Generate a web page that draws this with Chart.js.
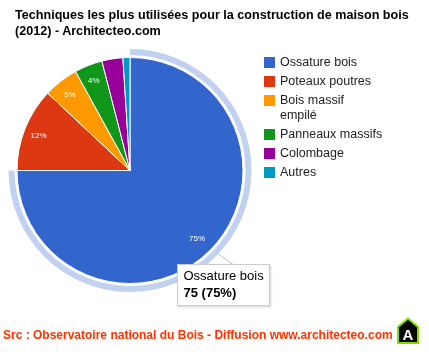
<!DOCTYPE html>
<html><head><meta charset="utf-8">
<script src="https://cdn.jsdelivr.net/npm/chart.js@4"></script>
<style>
html,body{margin:0;padding:0;background:#fff;}
#wrap{position:relative;width:429px;height:352px;overflow:hidden;font-family:Arial,"Liberation Sans",sans-serif;}
#c{position:absolute;left:0;top:0;}
#title{position:absolute;left:15px;top:7px;font-weight:bold;font-size:12.6px;line-height:16px;color:#000;white-space:nowrap;}
#legend{position:absolute;left:264px;top:55px;}
.item{display:flex;align-items:flex-start;margin-bottom:4px;}
.sw{width:11px;height:11px;margin-top:2px;margin-right:5px;flex:none;}
.lt{font-size:12.5px;line-height:15px;color:#222;width:103px;}
#footer{position:absolute;left:3px;top:327px;font-weight:bold;font-size:12px;line-height:16px;color:#ff3300;white-space:nowrap;}
#logo{position:absolute;left:397px;top:317px;}
</style></head>
<body>
<div id="wrap">
<canvas id="c" width="429" height="352"></canvas>
<div id="title">Techniques les plus utilisées pour la construction de maison bois<br>(2012) - Architecteo.com</div>
<div id="legend"></div>
<div id="footer">Src : Observatoire national du Bois - Diffusion www.architecteo.com</div>
<svg id="logo" width="24" height="28" viewBox="0 0 24 28">
<polygon points="11,1.5 21,10 21,26 1,26 1,10" fill="#000" stroke="#7fdd00" stroke-width="2" stroke-linejoin="miter"/>
<text x="11" y="23" text-anchor="middle" font-family="Liberation Sans, Arial" font-weight="bold" font-size="15" fill="#fff">A</text>
</svg>
</div>
<script>
const categories = ['Ossature bois','Poteaux poutres','Bois massif empilé','Panneaux massifs','Colombage','Autres'];
const values = [75, 12, 5, 4, 3, 1];
const colors = ['#3366cc','#dc3912','#ff9900','#109618','#990099','#0099c6'];
const selectedIndex = 0;
const labelMinPct = 4;

// legend
const lg = document.getElementById('legend');
categories.forEach((c, i) => {
  const it = document.createElement('div'); it.className = 'item';
  const sw = document.createElement('div'); sw.className = 'sw'; sw.style.background = colors[i];
  const t = document.createElement('div'); t.className = 'lt'; t.textContent = c;
  it.appendChild(sw); it.appendChild(t); lg.appendChild(it);
});

const total = values.reduce((a, b) => a + b, 0);
const pctOf = v => Math.round(v / total * 100);

const haloPlugin = {
  id: 'halo',
  beforeDatasetsDraw(chart) {
    const arc = chart.getDatasetMeta(0).data[selectedIndex];
    const p = arc.getProps(['x','y','startAngle','endAngle','outerRadius'], true);
    const ctx = chart.ctx;
    ctx.save();
    ctx.beginPath();
    ctx.arc(p.x, p.y, p.outerRadius + 8.5, p.startAngle, p.endAngle);
    ctx.arc(p.x, p.y, p.outerRadius + 2.5, p.endAngle, p.startAngle, true);
    ctx.closePath();
    ctx.fillStyle = 'rgba(51,102,204,0.3)';
    ctx.fill();
    ctx.restore();
  }
};

const labelPlugin = {
  id: 'sliceLabels',
  afterDatasetsDraw(chart) {
    const ctx = chart.ctx;
    const meta = chart.getDatasetMeta(0);
    ctx.save();
    ctx.font = '8px Arial, "Liberation Sans", sans-serif';
    ctx.fillStyle = '#fff';
    ctx.textAlign = 'center';
    ctx.textBaseline = 'middle';
    meta.data.forEach((arc, i) => {
      const pct = pctOf(values[i]);
      if (pct < labelMinPct) return;
      const p = arc.getProps(['x','y','startAngle','endAngle','outerRadius'], true);
      const mid = (p.startAngle + p.endAngle) / 2;
      const f = pct > 50 ? 0.84 : 0.87;
      ctx.fillText(pct + '%', p.x + Math.cos(mid) * p.outerRadius * f, p.y + 1.5 + Math.sin(mid) * p.outerRadius * f);
    });
    ctx.restore();
  }
};

const tipPlugin = {
  id: 'fixedTip',
  afterDraw(chart) {
    const ctx = chart.ctx;
    const bx = 177, by = 264, bw = 93, bh = 42;
    ctx.save();
    ctx.strokeStyle = '#bbb';
    ctx.lineWidth = 1;
    ctx.beginPath();
    ctx.moveTo(218.5, 254);
    ctx.lineTo(233, 264.5);
    ctx.stroke();
    ctx.shadowColor = 'rgba(0,0,0,0.18)';
    ctx.shadowBlur = 2;
    ctx.shadowOffsetX = 1;
    ctx.shadowOffsetY = 1;
    ctx.fillStyle = '#fff';
    ctx.fillRect(bx, by, bw, bh);
    ctx.shadowColor = 'transparent';
    ctx.strokeStyle = '#ccc';
    ctx.strokeRect(bx + 0.5, by + 0.5, bw - 1, bh - 1);
    ctx.fillStyle = '#000';
    ctx.textBaseline = 'middle';
    ctx.textAlign = 'left';
    ctx.font = '13px Arial, "Liberation Sans", sans-serif';
    ctx.fillText(categories[selectedIndex], bx + 6.5, 276.5);
    ctx.font = 'bold 13px Arial, "Liberation Sans", sans-serif';
    ctx.fillText(values[selectedIndex] + ' (' + pctOf(values[selectedIndex]) + '%)', bx + 6.5, 293);
    ctx.restore();
  }
};

new Chart(document.getElementById('c'), {
  type: 'pie',
  data: {
    labels: categories,
    datasets: [{
      data: values,
      backgroundColor: colors,
      borderColor: '#fff',
      borderWidth: 1,
      hoverOffset: 0
    }]
  },
  options: {
    responsive: false,
    animation: false,
    events: [],
    layout: { padding: { left: 16.5, top: 57, right: 185.5, bottom: 68 } },
    plugins: {
      legend: { display: false },
      title: { display: false },
      tooltip: { enabled: false }
    }
  },
  plugins: [haloPlugin, labelPlugin, tipPlugin]
});
</script>
</body></html>
